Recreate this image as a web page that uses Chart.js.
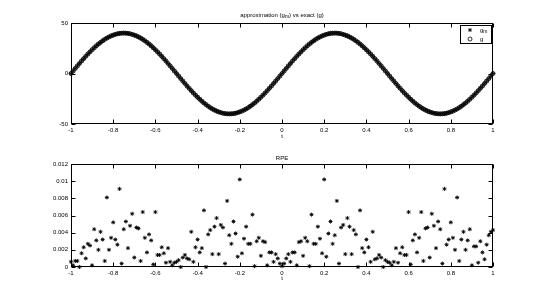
<!DOCTYPE html>
<html>
<head>
<meta charset="utf-8">
<script src="https://cdn.jsdelivr.net/npm/chart.js@4.4.1/dist/chart.umd.min.js"></script>
<style>
    html, body { margin: 0; padding: 0; background: #fff; }
    #wrap { position: relative; width: 545px; height: 300px; }
    .box { position: absolute; left: 0; width: 545px; }
</style>
</head>
<body>
<div id="wrap">
    <div class="box" style="top:0;height:145px"><canvas id="topChart"></canvas></div>
    <div class="box" style="top:145px;height:155px"><canvas id="rpeChart"></canvas></div>
</div>
<script>
/* ============================
   Datos
============================ */
const T_VALUES = [
    -1.00, -0.99, -0.98, -0.97, -0.96, -0.95, -0.94, -0.93, -0.92, -0.91,
    -0.90, -0.89, -0.88, -0.87, -0.86, -0.85, -0.84, -0.83, -0.82, -0.81,
    -0.80, -0.79, -0.78, -0.77, -0.76, -0.75, -0.74, -0.73, -0.72, -0.71,
    -0.70, -0.69, -0.68, -0.67, -0.66, -0.65, -0.64, -0.63, -0.62, -0.61,
    -0.60, -0.59, -0.58, -0.57, -0.56, -0.55, -0.54, -0.53, -0.52, -0.51,
    -0.50, -0.49, -0.48, -0.47, -0.46, -0.45, -0.44, -0.43, -0.42, -0.41,
    -0.40, -0.39, -0.38, -0.37, -0.36, -0.35, -0.34, -0.33, -0.32, -0.31,
    -0.30, -0.29, -0.28, -0.27, -0.26, -0.25, -0.24, -0.23, -0.22, -0.21,
    -0.20, -0.19, -0.18, -0.17, -0.16, -0.15, -0.14, -0.13, -0.12, -0.11,
    -0.10, -0.09, -0.08, -0.07, -0.06, -0.05, -0.04, -0.03, -0.02, -0.01,
    0.00,
    0.01, 0.02, 0.03, 0.04, 0.05, 0.06, 0.07, 0.08, 0.09, 0.10,
    0.11, 0.12, 0.13, 0.14, 0.15, 0.16, 0.17, 0.18, 0.19, 0.20,
    0.21, 0.22, 0.23, 0.24, 0.25, 0.26, 0.27, 0.28, 0.29, 0.30,
    0.31, 0.32, 0.33, 0.34, 0.35, 0.36, 0.37, 0.38, 0.39, 0.40,
    0.41, 0.42, 0.43, 0.44, 0.45, 0.46, 0.47, 0.48, 0.49, 0.50,
    0.51, 0.52, 0.53, 0.54, 0.55, 0.56, 0.57, 0.58, 0.59, 0.60,
    0.61, 0.62, 0.63, 0.64, 0.65, 0.66, 0.67, 0.68, 0.69, 0.70,
    0.71, 0.72, 0.73, 0.74, 0.75, 0.76, 0.77, 0.78, 0.79, 0.80,
    0.81, 0.82, 0.83, 0.84, 0.85, 0.86, 0.87, 0.88, 0.89, 0.90,
    0.91, 0.92, 0.93, 0.94, 0.95, 0.96, 0.97, 0.98, 0.99, 1.00
]

// exact g (approximation g_m sits on top of it at this scale)
const G_EXACT = [
    0, 2.5, 5.0, 7.5, 9.9, 12.4, 14.7, 17.0, 19.3, 21.4,
    23.5, 25.5, 27.4, 29.2, 30.8, 32.4, 33.8, 35.1, 36.2, 37.2,
    38.0, 38.7, 39.3, 39.7, 39.9, 40.0, 39.9, 39.7, 39.3, 38.7,
    38.0, 37.2, 36.2, 35.1, 33.8, 32.4, 30.8, 29.2, 27.4, 25.5,
    23.5, 21.4, 19.3, 17.0, 14.7, 12.4, 9.9, 7.5, 5.0, 2.5,
    0, -2.5, -5.0, -7.5, -9.9, -12.4, -14.7, -17.0, -19.3, -21.4,
    -23.5, -25.5, -27.4, -29.2, -30.8, -32.4, -33.8, -35.1, -36.2, -37.2,
    -38.0, -38.7, -39.3, -39.7, -39.9, -40.0, -39.9, -39.7, -39.3, -38.7,
    -38.0, -37.2, -36.2, -35.1, -33.8, -32.4, -30.8, -29.2, -27.4, -25.5,
    -23.5, -21.4, -19.3, -17.0, -14.7, -12.4, -9.9, -7.5, -5.0, -2.5,
    0,
    2.5, 5.0, 7.5, 9.9, 12.4, 14.7, 17.0, 19.3, 21.4, 23.5,
    25.5, 27.4, 29.2, 30.8, 32.4, 33.8, 35.1, 36.2, 37.2, 38.0,
    38.7, 39.3, 39.7, 39.9, 40.0, 39.9, 39.7, 39.3, 38.7, 38.0,
    37.2, 36.2, 35.1, 33.8, 32.4, 30.8, 29.2, 27.4, 25.5, 23.5,
    21.4, 19.3, 17.0, 14.7, 12.4, 9.9, 7.5, 5.0, 2.5, 0,
    -2.5, -5.0, -7.5, -9.9, -12.4, -14.7, -17.0, -19.3, -21.4, -23.5,
    -25.5, -27.4, -29.2, -30.8, -32.4, -33.8, -35.1, -36.2, -37.2, -38.0,
    -38.7, -39.3, -39.7, -39.9, -40.0, -39.9, -39.7, -39.3, -38.7, -38.0,
    -37.2, -36.2, -35.1, -33.8, -32.4, -30.8, -29.2, -27.4, -25.5, -23.5,
    -21.4, -19.3, -17.0, -14.7, -12.4, -9.9, -7.5, -5.0, -2.5, 0
]
const G_APPROX = G_EXACT

const RPE = [
    0.0006, 0.0002, 0.0007, 0.0007, 0.0000, 0.0016, 0.0023, 0.0010, 0.0027, 0.0025,
    0.0002, 0.0044, 0.0031, 0.0020, 0.0041, 0.0032, 0.0007, 0.0081, 0.0020, 0.0034,
    0.0052, 0.0032, 0.0026, 0.0091, 0.0004, 0.0044, 0.0053, 0.0022, 0.0048, 0.0062,
    0.0011, 0.0046, 0.0045, 0.0007, 0.0064, 0.0034, 0.0017, 0.0038, 0.0031, 0.0003,
    0.0064, 0.0014, 0.0014, 0.0023, 0.0016, 0.0005, 0.0022, 0.0006, 0.0002, 0.0005,
    0.0006, 0.0008, 0.0000, 0.0011, 0.0014, 0.0010, 0.0009, 0.0041, 0.0006, 0.0023,
    0.0032, 0.0017, 0.0022, 0.0066, 0.0000, 0.0038, 0.0043, 0.0015, 0.0047, 0.0057,
    0.0015, 0.0049, 0.0046, 0.0004, 0.0077, 0.0037, 0.0027, 0.0053, 0.0039, 0.0012,
    0.0102, 0.0016, 0.0033, 0.0047, 0.0027, 0.0027, 0.0061, 0.0001, 0.0030, 0.0034,
    0.0013, 0.0030, 0.0029, 0.0002, 0.0017, 0.0017, 0.0006, 0.0015, 0.0010, 0.0004,
    0.0001,
    0.0004, 0.0010, 0.0015, 0.0006, 0.0017, 0.0017, 0.0002, 0.0029, 0.0030, 0.0013,
    0.0034, 0.0030, 0.0001, 0.0061, 0.0027, 0.0027, 0.0047, 0.0033, 0.0016, 0.0102,
    0.0012, 0.0039, 0.0053, 0.0027, 0.0037, 0.0077, 0.0004, 0.0046, 0.0049, 0.0015,
    0.0057, 0.0047, 0.0015, 0.0043, 0.0038, 0.0000, 0.0066, 0.0022, 0.0017, 0.0032,
    0.0023, 0.0006, 0.0041, 0.0009, 0.0010, 0.0014, 0.0011, 0.0000, 0.0008, 0.0006,
    0.0005, 0.0002, 0.0006, 0.0022, 0.0005, 0.0016, 0.0023, 0.0014, 0.0014, 0.0064,
    0.0003, 0.0031, 0.0038, 0.0017, 0.0034, 0.0064, 0.0007, 0.0045, 0.0046, 0.0011,
    0.0062, 0.0048, 0.0022, 0.0053, 0.0044, 0.0004, 0.0091, 0.0026, 0.0032, 0.0052,
    0.0034, 0.0020, 0.0081, 0.0007, 0.0032, 0.0041, 0.0020, 0.0031, 0.0044, 0.0002,
    0.0024, 0.0024, 0.0005, 0.0030, 0.0017, 0.0009, 0.0026, 0.0037, 0.0041, 0.0043
]

const X_TICKS = [-1, -0.8, -0.6, -0.4, -0.2, 0, 0.2, 0.4, 0.6, 0.8, 1]
const X_TICK_LABELS = ['-1', '-0.8', '-0.6', '-0.4', '-0.2', '0', '0.2', '0.4', '0.6', '0.8', '1']
const TOP_Y_TICKS = [-50, 0, 50]
const TOP_Y_LABELS = ['-50', '0', '50']
const RPE_Y_TICKS = [0, 0.002, 0.004, 0.006, 0.008, 0.01, 0.012]
const RPE_Y_LABELS = ['0', '0.002', '0.004', '0.006', '0.008', '0.01', '0.012']

/* ============================
   Estilo
============================ */
const FONT = { family: "'Liberation Sans', Arial, sans-serif", size: 6 }
const FONT_CSS = "6px 'Liberation Sans', Arial, sans-serif"
const SUB_CSS = "5px 'Liberation Sans', Arial, sans-serif"

const toPoints = (xs, ys) => xs.map((x, i) => ({ x, y: ys[i] }))

// draws text made of [text, isSubscript] parts, centred on cx
function drawParts(ctx, parts, cx, cy, align) {
    const widths = parts.map(([txt, sub]) => { ctx.font = sub ? SUB_CSS : FONT_CSS; return ctx.measureText(txt).width })
    const total = widths.reduce((a, b) => a + b, 0)
    let x = align === 'left' ? cx : cx - total / 2
    ctx.textAlign = 'left'
    ctx.textBaseline = 'middle'
    parts.forEach(([txt, sub], i) => {
        ctx.font = sub ? SUB_CSS : FONT_CSS
        ctx.fillText(txt, x, sub ? cy + 2 : cy)
        x += widths[i]
    })
}

// box, inward ticks and title, MATLAB style
const framePlugin = {
    id: 'frame',
    afterDraw(chart, args, opts) {
        const { ctx, chartArea: a, scales: { x, y } } = chart
        ctx.save()
        ctx.strokeStyle = '#000'
        ctx.lineWidth = 1
        const L = Math.round(a.left) + 0.5, R = Math.round(a.right) - 0.5
        const T = Math.round(a.top) + 0.5, B = Math.round(a.bottom) - 0.5
        ctx.strokeRect(L, T, R - L, B - T)
        ctx.beginPath()
        X_TICKS.forEach(v => {
            const px = Math.round(x.getPixelForValue(v)) + 0.5
            ctx.moveTo(px, B); ctx.lineTo(px, B - 4)
            ctx.moveTo(px, T); ctx.lineTo(px, T + 4)
        })
        opts.yTicks.forEach(v => {
            const py = Math.round(y.getPixelForValue(v)) + 0.5
            ctx.moveTo(L, py); ctx.lineTo(L + 4, py)
            ctx.moveTo(R, py); ctx.lineTo(R - 4, py)
        })
        ctx.stroke()

        ctx.fillStyle = '#000'
        drawParts(ctx, opts.title, (a.left + a.right) / 2, a.top - opts.titleGap)

        if (opts.legend) {
            const lx = 460, ly = 25, lw = 31, lh = 18
            ctx.strokeRect(lx + 0.5, ly + 0.5, lw, lh)
            const h = Chart.helpers
            opts.legend.forEach((item, i) => {
                const my = ly + 5 + i * 9
                ctx.strokeStyle = '#000'
                ctx.fillStyle = 'rgba(0,0,0,0)'
                ctx.lineWidth = 0.8
                h.drawPoint(ctx, { pointStyle: item.style, radius: 2, borderWidth: 0.8 }, lx + 10, my)
                ctx.fillStyle = '#000'
                drawParts(ctx, item.parts, lx + 20, my, 'left')
            })
        }
        ctx.restore()
    }
}

function xAxis(titleBottom) {
    return {
        type: 'linear',
        min: -1,
        max: 1,
        grid: { display: false, drawTicks: false },
        border: { display: false },
        afterBuildTicks: s => { s.ticks = X_TICKS.map(v => ({ value: v })) },
        afterFit: s => { s.height = 21 },
        ticks: { font: FONT, color: '#000', padding: 3, maxRotation: 0, autoSkip: false, callback: (v, i) => X_TICK_LABELS[i] },
        title: { display: true, text: 't', font: FONT, color: '#000', padding: { top: 0, bottom: titleBottom } }
    }
}

function yAxis(min, max, ticks, labels) {
    return {
        type: 'linear',
        min,
        max,
        grid: { display: false, drawTicks: false },
        border: { display: false },
        afterBuildTicks: s => { s.ticks = ticks.map(v => ({ value: v })) },
        afterFit: s => { s.width = 71 },
        ticks: { font: FONT, color: '#000', padding: 3, autoSkip: false, callback: (v, i) => labels[i] }
    }
}

Chart.defaults.animation = false

/* ============================
   Chart aproximación vs exacta
============================ */
new Chart(document.getElementById('topChart'), {
    type: 'scatter',
    data: {
        datasets: [
            {
                label: 'g_m',
                data: toPoints(T_VALUES, G_APPROX),
                pointStyle: 'star',
                pointRadius: 2.2,
                pointBorderWidth: 0.8,
                pointBorderColor: '#000',
                pointBackgroundColor: '#000',
                clip: false
            },
            {
                label: 'g',
                data: toPoints(T_VALUES, G_EXACT),
                pointStyle: 'circle',
                pointRadius: 2,
                pointBorderWidth: 0.8,
                pointBorderColor: '#000',
                pointBackgroundColor: 'rgba(0,0,0,0)',
                clip: false
            }
        ]
    },
    options: {
        responsive: true,
        maintainAspectRatio: false,
        layout: { padding: { top: 23, right: 52, left: 0, bottom: 0 } },
        plugins: {
            legend: { display: false },
            tooltip: { enabled: false },
            frame: {
                yTicks: TOP_Y_TICKS,
                titleGap: 8,
                title: [['approximation (g', false], ['m', true], [') vs exact (g)', false]],
                legend: [
                    { style: 'star', parts: [['g', false], ['m', true]] },
                    { style: 'circle', parts: [['g', false]] }
                ]
            }
        },
        scales: {
            x: xAxis(5),
            y: yAxis(-50, 50, TOP_Y_TICKS, TOP_Y_LABELS)
        }
    },
    plugins: [framePlugin]
})

/* ============================
   Chart RPE
============================ */
new Chart(document.getElementById('rpeChart'), {
    type: 'scatter',
    data: {
        datasets: [
            {
                label: 'RPE',
                data: toPoints(T_VALUES, RPE),
                pointStyle: 'star',
                pointRadius: 2,
                pointBorderWidth: 0.9,
                pointBorderColor: '#000',
                pointBackgroundColor: '#000',
                clip: false
            }
        ]
    },
    options: {
        responsive: true,
        maintainAspectRatio: false,
        layout: { padding: { top: 19, right: 52, left: 0, bottom: 12 } },
        plugins: {
            legend: { display: false },
            tooltip: { enabled: false },
            frame: {
                yTicks: RPE_Y_TICKS,
                titleGap: 6,
                title: [['RPE', false]]
            }
        },
        scales: {
            x: xAxis(6),
            y: yAxis(0, 0.012, RPE_Y_TICKS, RPE_Y_LABELS)
        }
    },
    plugins: [framePlugin]
})
</script>
</body>
</html>
